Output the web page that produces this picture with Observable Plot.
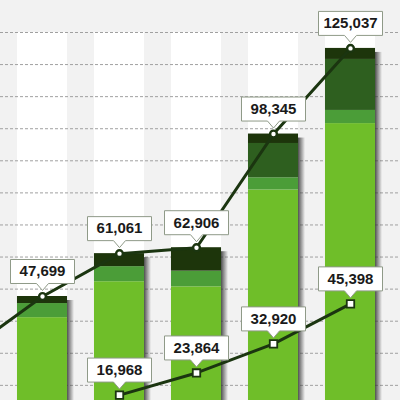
<!DOCTYPE html>
<html><head><meta charset="utf-8">
<script src="https://cdn.jsdelivr.net/npm/d3@7"></script>
<script src="https://cdn.jsdelivr.net/npm/@observablehq/plot@0.6"></script>
<style>html,body{margin:0;padding:0;overflow:hidden;background:#f2f2f2;width:400px;height:400px}</style>
</head><body><div id="chart"></div>
<script>
// Categories (the first one lies just off the left edge; only the line reaches it)
const categories = ["2006", "2007", "2008", "2009", "2010", "2011"];
const barCategories = ["2007", "2008", "2009", "2010", "2011"];
const seriesNames = ["Segment A", "Segment B", "Segment C", "Segment D"];
const segmentA = [41100, 52300, 50700, 80900, 101600];
const segmentB = [4400, 4700, 4900, 3800, 4100];
const segmentC = [0, 0, 0, 10700, 15900];
const segmentD = [2199, 4061, 7306, 2945, 3437];
const totalCategories = ["2006", "2007", "2008", "2009", "2010", "2011"];
const totals = [30300, 47699, 61061, 62906, 98345, 125037];
const lowerCategories = ["2008", "2009", "2010", "2011"];
const lowerValues = [16968, 23864, 32920, 45398];
const gridValues = [10000, 20000, 30000, 40000, 50000, 60000, 70000, 80000, 90000, 100000, 110000, 120000, 130000];
const seriesColors = ["#6fbe29", "#4b9d38", "#2e5f1f", "#1d350b"];

const seriesArrays = [segmentA, segmentB, segmentC, segmentD];
const stacked = [];
seriesArrays.forEach((arr, s) => arr.forEach((v, i) => stacked.push({cat: barCategories[i], series: seriesNames[s], value: v})));
const totalData = totalCategories.map((c, i) => ({cat: c, value: totals[i]}));
const totalVisible = totalData.filter(d => barCategories.includes(d.cat));
const lowerData = lowerCategories.map((c, i) => ({cat: c, value: lowerValues[i]}));

const lineColor = "#1b3510";
const callout = {
  draw(ctx) {
    const w = 32, top = -37, bot = -13;
    ctx.moveTo(-w, top); ctx.lineTo(w, top); ctx.lineTo(w, bot);
    ctx.lineTo(6, bot); ctx.lineTo(0, -6); ctx.lineTo(-6, bot);
    ctx.lineTo(-w, bot); ctx.closePath();
  }
};
const fmt = d3.format(",");
const textOpts = {x: "cat", y: "value", text: d => fmt(d.value), dy: -25, fontSize: 15, fontWeight: "bold", fill: "#1a1a1a", fontFamily: "Liberation Sans, Arial, sans-serif"};

const chart = Plot.plot({
  width: 400, height: 400, margin: 0,
  style: {background: "#f2f2f2", overflow: "hidden"},
  x: {type: "band", domain: categories, range: [-73.5, 388.5], paddingInner: 0.35, paddingOuter: 0.175, round: false, axis: null},
  y: {domain: [0, 130000], range: [449, 32], axis: null},
  color: {domain: seriesNames, range: seriesColors},
  marks: [
    Plot.barY(barCategories, {x: d => d, y: 130000, fill: "white"}),
    Plot.ruleY(gridValues, {stroke: "#a0a0a0", strokeWidth: 1, strokeDasharray: "3,2"}),
    Plot.barY(totalVisible, {x: "cat", y: "value", fill: "url(#barShadow)", insetLeft: 50, insetRight: -7, insetTop: 4}),
    Plot.barY(stacked, {x: "cat", y: "value", fill: "series"}),
    Plot.line(totalData, {x: "cat", y: "value", stroke: lineColor, strokeWidth: 3}),
    Plot.line(lowerData, {x: "cat", y: "value", stroke: lineColor, strokeWidth: 3}),
    Plot.dot(totalVisible, {x: "cat", y: "value", r: 3.4, fill: "white", stroke: lineColor, strokeWidth: 2.4}),
    Plot.dot(lowerData, {x: "cat", y: "value", symbol: "square", r: 4.2, fill: "white", stroke: lineColor, strokeWidth: 1.8}),
    Plot.dot(totalVisible, {x: "cat", y: "value", symbol: callout, r: 5, fill: "white", stroke: "#8f9a88", strokeWidth: 1}),
    Plot.dot(lowerData, {x: "cat", y: "value", symbol: callout, r: 5, fill: "white", stroke: "#8f9a88", strokeWidth: 1}),
    Plot.text(totalVisible, textOpts),
    Plot.text(lowerData, textOpts)
  ]
});
const defs = d3.select(chart).insert("defs", ":first-child");
const grad = defs.append("linearGradient").attr("id", "barShadow").attr("x1", 0).attr("x2", 1).attr("y1", 0).attr("y2", 0);
grad.append("stop").attr("offset", "0%").attr("stop-color", "#333").attr("stop-opacity", 0.85);
grad.append("stop").attr("offset", "100%").attr("stop-color", "#333").attr("stop-opacity", 0);
document.getElementById("chart").appendChild(chart);
</script>
</body></html>
